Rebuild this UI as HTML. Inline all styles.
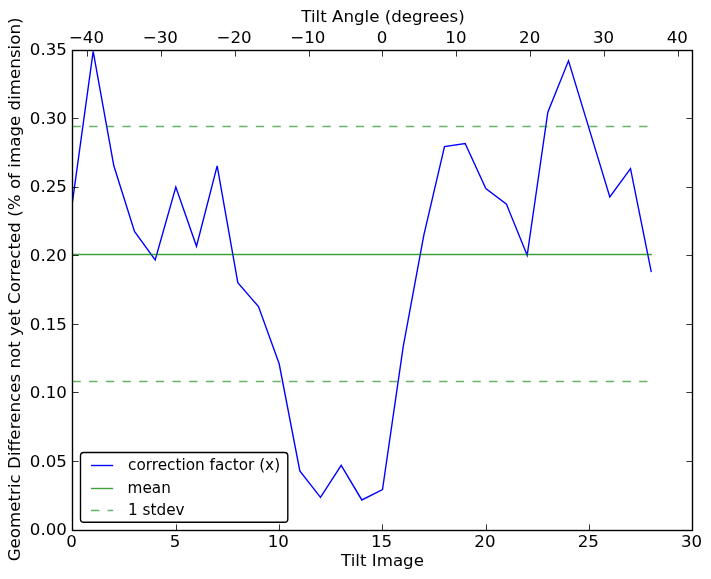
<!DOCTYPE html>
<html lang="en"><head><meta charset="utf-8"><title>Tilt correction plot</title>
<style>html,body{margin:0;padding:0;background:#fff;}body{width:711px;height:579px;overflow:hidden;}svg{display:block;}text{font-family:"DejaVu Sans","Liberation Sans",sans-serif;font-size:16.67px;fill:#000;}.lg{font-size:15.28px;}</style></head><body>
<svg width="711" height="579" viewBox="0 0 711 579">
<rect x="0" y="0" width="711" height="579" fill="#ffffff"/>
<defs><clipPath id="ax"><rect x="72.50" y="50.00" width="620.00" height="480.00"/></clipPath></defs>
<g clip-path="url(#ax)" fill="none">
<polyline points="72.50,201.54 93.17,51.37 113.83,165.75 134.50,231.44 155.17,259.97 175.83,187.14 196.50,246.25 217.17,165.89 237.83,282.73 258.50,306.59 279.17,363.78 299.83,470.89 320.50,497.36 341.17,465.27 361.83,499.97 382.50,489.54 403.17,346.91 423.83,235.14 444.50,146.55 465.17,143.53 485.83,188.65 506.50,204.29 527.17,255.30 547.83,112.13 568.50,60.83 589.17,128.86 609.83,197.02 630.50,168.63 651.17,271.35" stroke="#0000ff" stroke-width="1.39" stroke-linejoin="miter" stroke-miterlimit="4" stroke-linecap="square"/>
<line x1="72.50" y1="254.50" x2="651.17" y2="254.50" stroke="#008000" stroke-opacity="0.75" stroke-width="1.39" stroke-linecap="square"/>
<line x1="72.50" y1="126.50" x2="651.17" y2="126.50" stroke="#008000" stroke-opacity="0.6" stroke-width="1.39" stroke-dasharray="8.333 8.333"/>
<line x1="72.50" y1="381.50" x2="651.17" y2="381.50" stroke="#008000" stroke-opacity="0.6" stroke-width="1.39" stroke-dasharray="8.333 8.333"/>
</g>
<g stroke="#000" stroke-width="0.8" fill="none">
<line x1="72.50" y1="530.50" x2="72.50" y2="524.40"/>
<line x1="176.50" y1="530.50" x2="176.50" y2="524.40"/>
<line x1="279.50" y1="530.50" x2="279.50" y2="524.40"/>
<line x1="382.50" y1="530.50" x2="382.50" y2="524.40"/>
<line x1="486.50" y1="530.50" x2="486.50" y2="524.40"/>
<line x1="589.50" y1="530.50" x2="589.50" y2="524.40"/>
<line x1="692.50" y1="530.50" x2="692.50" y2="524.40"/>
<line x1="87.50" y1="50.50" x2="87.50" y2="56.60"/>
<line x1="161.50" y1="50.50" x2="161.50" y2="56.60"/>
<line x1="235.50" y1="50.50" x2="235.50" y2="56.60"/>
<line x1="309.50" y1="50.50" x2="309.50" y2="56.60"/>
<line x1="382.50" y1="50.50" x2="382.50" y2="56.60"/>
<line x1="456.50" y1="50.50" x2="456.50" y2="56.60"/>
<line x1="530.50" y1="50.50" x2="530.50" y2="56.60"/>
<line x1="604.50" y1="50.50" x2="604.50" y2="56.60"/>
<line x1="678.50" y1="50.50" x2="678.50" y2="56.60"/>
<line x1="72.50" y1="530.50" x2="78.60" y2="530.50"/>
<line x1="692.50" y1="530.50" x2="686.40" y2="530.50"/>
<line x1="72.50" y1="461.50" x2="78.60" y2="461.50"/>
<line x1="692.50" y1="461.50" x2="686.40" y2="461.50"/>
<line x1="72.50" y1="392.50" x2="78.60" y2="392.50"/>
<line x1="692.50" y1="392.50" x2="686.40" y2="392.50"/>
<line x1="72.50" y1="324.50" x2="78.60" y2="324.50"/>
<line x1="692.50" y1="324.50" x2="686.40" y2="324.50"/>
<line x1="72.50" y1="255.50" x2="78.60" y2="255.50"/>
<line x1="692.50" y1="255.50" x2="686.40" y2="255.50"/>
<line x1="72.50" y1="187.50" x2="78.60" y2="187.50"/>
<line x1="692.50" y1="187.50" x2="686.40" y2="187.50"/>
<line x1="72.50" y1="118.50" x2="78.60" y2="118.50"/>
<line x1="692.50" y1="118.50" x2="686.40" y2="118.50"/>
<line x1="72.50" y1="50.50" x2="78.60" y2="50.50"/>
<line x1="692.50" y1="50.50" x2="686.40" y2="50.50"/>
</g>
<rect x="72.50" y="50.50" width="620.00" height="480.00" fill="none" stroke="#000" stroke-width="1.39"/>
<g text-anchor="middle">
<text x="71.60" y="547.00">0</text>
<text x="174.93" y="547.00">5</text>
<text x="278.27" y="547.00">10</text>
<text x="381.60" y="547.00">15</text>
<text x="484.93" y="547.00">20</text>
<text x="588.27" y="547.00">25</text>
<text x="691.60" y="547.00">30</text>
<text x="86.46" y="42.80">−40</text>
<text x="160.27" y="42.80">−30</text>
<text x="234.08" y="42.80">−20</text>
<text x="307.89" y="42.80">−10</text>
<text x="382.10" y="42.80">0</text>
<text x="455.91" y="42.80">10</text>
<text x="529.72" y="42.80">20</text>
<text x="603.53" y="42.80">30</text>
<text x="677.34" y="42.80">40</text>
</g>
<g text-anchor="end">
<text x="66.94" y="535.30">0.00</text>
<text x="66.94" y="466.73">0.05</text>
<text x="66.94" y="398.16">0.10</text>
<text x="66.94" y="329.59">0.15</text>
<text x="66.94" y="261.01">0.20</text>
<text x="66.94" y="192.44">0.25</text>
<text x="66.94" y="123.87">0.30</text>
<text x="66.94" y="55.30">0.35</text>
</g>
<text x="382.50" y="566.00" text-anchor="middle">Tilt Image</text>
<text x="383.00" y="22.00" text-anchor="middle">Tilt Angle (degrees)</text>
<text transform="translate(20.00,289.40) rotate(-90)" text-anchor="middle" letter-spacing="0.02">Geometric Differences not yet Corrected (% of image dimension)</text>
<rect x="80.5" y="452.5" width="207.3" height="69.8" rx="3.3" ry="3.3" fill="#fff" stroke="#000" stroke-width="1.39"/>
<g fill="none" stroke-width="1.39">
<line x1="91" y1="465.5" x2="113.2" y2="465.5" stroke="#0000ff"/>
<line x1="91" y1="488.5" x2="113.2" y2="488.5" stroke="#008000" stroke-opacity="0.75"/>
<line x1="91" y1="510.5" x2="113.2" y2="510.5" stroke="#008000" stroke-opacity="0.6" stroke-dasharray="8.333 8.333"/>
</g>
<text class="lg" x="128.0" y="469.9">correction factor (x)</text>
<text class="lg" x="127.6" y="493.1">mean</text>
<text class="lg" x="128.0" y="514.8">1 stdev</text>
</svg></body></html>
